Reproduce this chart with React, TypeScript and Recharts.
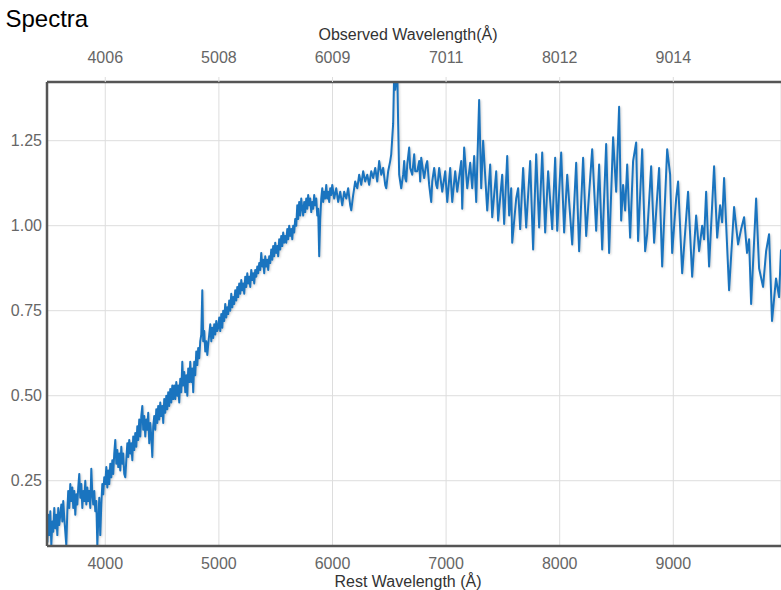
import React from "react"
import { LineChart, Line, XAxis, YAxis, CartesianGrid } from "recharts"

const restTicks = [4000, 5000, 6000, 7000, 8000, 9000]
const observedTicks = [4006, 5008, 6009, 7011, 8012, 9014]
const fluxTicks = [0.25, 0.5, 0.75, 1.0, 1.25]

// [rest wavelength (Å), flux], blue to red
const blueEnd: [number, number][] = [
  [3472, 0.10], [3481, 0.14], [3490, 0.07], [3498, 0.15], [3507, 0.09], [3516, 0.16], [3525, 0.06],
  [3534, 0.13], [3542, 0.10], [3551, 0.17], [3560, 0.11], [3569, 0.15], [3578, 0.09], [3586, 0.17],
  [3595, 0.12], [3613, 0.18], [3622, 0.13], [3630, 0.19], [3639, 0.14], [3648, 0.10], [3657, 0.06],
  [3666, 0.16], [3674, 0.22], [3683, 0.17], [3692, 0.24], [3701, 0.19], [3710, 0.23], [3718, 0.17],
  [3727, 0.22], [3736, 0.15], [3745, 0.21], [3754, 0.18], [3762, 0.23], [3771, 0.27], [3780, 0.20],
  [3789, 0.24], [3798, 0.17], [3806, 0.22], [3815, 0.19], [3824, 0.25], [3833, 0.18], [3842, 0.23],
  [3850, 0.19], [3859, 0.22], [3868, 0.17], [3877, 0.285], [3886, 0.21], [3894, 0.18], [3903, 0.22],
  [3912, 0.16], [3921, 0.19], [3930, 0.06], [3938, 0.13], [3947, 0.20], [3956, 0.09], [3965, 0.18],
  [3974, 0.24], [3982, 0.21], [3991, 0.26],
]

const hBetaRegion: [number, number][] = [
  [4000, 0.24], [4009, 0.29], [4018, 0.23], [4026, 0.28], [4035, 0.24], [4044, 0.30], [4053, 0.26],
  [4062, 0.31], [4070, 0.27], [4079, 0.33], [4088, 0.37], [4097, 0.30], [4106, 0.34], [4114, 0.29],
  [4123, 0.33], [4132, 0.28], [4141, 0.35], [4150, 0.30], [4158, 0.33], [4167, 0.27], [4176, 0.26],
  [4185, 0.31], [4194, 0.36], [4202, 0.32], [4211, 0.37], [4220, 0.33], [4229, 0.36], [4238, 0.31],
  [4246, 0.38], [4255, 0.34], [4264, 0.39], [4273, 0.35], [4282, 0.41], [4290, 0.37], [4299, 0.43],
  [4308, 0.38], [4317, 0.44], [4326, 0.47], [4334, 0.40], [4343, 0.44], [4352, 0.38], [4361, 0.43],
  [4370, 0.40], [4378, 0.45], [4387, 0.36], [4396, 0.42], [4405, 0.38], [4414, 0.32], [4422, 0.41],
  [4431, 0.44], [4440, 0.40], [4449, 0.46], [4458, 0.42], [4466, 0.47], [4475, 0.43], [4484, 0.48],
  [4493, 0.44], [4502, 0.47], [4510, 0.42], [4519, 0.49], [4528, 0.45], [4537, 0.50], [4546, 0.46],
  [4554, 0.51], [4563, 0.47], [4572, 0.52], [4581, 0.48], [4590, 0.53], [4598, 0.49], [4607, 0.53],
  [4616, 0.49], [4625, 0.54], [4634, 0.50], [4642, 0.53], [4651, 0.48], [4660, 0.55], [4669, 0.51],
  [4678, 0.60], [4686, 0.53], [4695, 0.57], [4704, 0.51], [4713, 0.56], [4722, 0.50], [4730, 0.58],
  [4739, 0.54], [4748, 0.60], [4757, 0.54], [4766, 0.58], [4774, 0.51], [4783, 0.60], [4792, 0.56],
  [4801, 0.63], [4810, 0.59], [4818, 0.64], [4827, 0.61], [4836, 0.66], [4845, 0.68], [4854, 0.81],
  [4862, 0.66], [4871, 0.69], [4880, 0.63], [4889, 0.66], [4898, 0.62], [4906, 0.65], [4915, 0.68],
  [4924, 0.71], [4933, 0.66], [4942, 0.70], [4950, 0.67], [4959, 0.71], [4968, 0.68], [4977, 0.72],
  [4986, 0.69], [4994, 0.70],
]

const naDRegion: [number, number][] = [
  [5003, 0.73], [5012, 0.69], [5021, 0.74], [5030, 0.70], [5038, 0.75], [5047, 0.72], [5056, 0.77],
  [5065, 0.73], [5074, 0.76], [5082, 0.74], [5091, 0.78], [5100, 0.75], [5109, 0.80], [5118, 0.76],
  [5126, 0.79], [5135, 0.77], [5144, 0.81], [5153, 0.78], [5162, 0.82], [5170, 0.79], [5179, 0.83],
  [5188, 0.80], [5197, 0.84], [5206, 0.81], [5214, 0.83], [5223, 0.80], [5232, 0.85], [5241, 0.82],
  [5250, 0.86], [5258, 0.83], [5267, 0.85], [5276, 0.82], [5285, 0.87], [5294, 0.84], [5302, 0.86],
  [5311, 0.83], [5320, 0.87], [5329, 0.85], [5338, 0.88], [5346, 0.86], [5355, 0.89], [5364, 0.87],
  [5373, 0.92], [5382, 0.88], [5390, 0.90], [5399, 0.86], [5408, 0.91], [5417, 0.88], [5426, 0.90],
  [5434, 0.87], [5443, 0.91], [5452, 0.89], [5461, 0.93], [5470, 0.90], [5478, 0.94], [5487, 0.91],
  [5496, 0.95], [5505, 0.92], [5514, 0.94], [5522, 0.91], [5531, 0.96], [5540, 0.93], [5549, 0.97],
  [5558, 0.94], [5566, 0.98], [5575, 0.95], [5584, 0.97], [5593, 0.95], [5602, 0.99], [5610, 0.96],
  [5619, 1.00], [5628, 0.97], [5637, 0.99], [5646, 0.96], [5654, 1.00], [5663, 0.98], [5672, 1.02],
  [5681, 1.00], [5690, 1.06], [5698, 1.02], [5707, 1.07], [5716, 1.03], [5725, 1.08], [5734, 1.05],
  [5742, 1.03], [5751, 1.07], [5760, 1.04], [5769, 1.08], [5778, 1.05], [5786, 1.09], [5795, 1.06],
  [5804, 1.08], [5813, 1.04], [5822, 1.07], [5830, 1.05], [5839, 1.09], [5848, 1.06], [5857, 1.08],
  [5866, 1.03], [5874, 1.05], [5883, 0.91], [5892, 1.02], [5901, 1.08], [5910, 1.11], [5918, 1.07],
  [5927, 1.10], [5936, 1.08], [5945, 1.12], [5954, 1.08], [5962, 1.10], [5971, 1.07], [5980, 1.11],
  [5989, 1.09], [5998, 1.12],
]

const hAlphaRegion: [number, number][] = [
  [6015, 1.08], [6033, 1.11], [6050, 1.07], [6068, 1.10], [6086, 1.06], [6103, 1.10], [6121, 1.08],
  [6138, 1.11], [6156, 1.06], [6165, 1.045], [6182, 1.09], [6200, 1.13], [6218, 1.11], [6235, 1.15],
  [6253, 1.12], [6270, 1.16], [6288, 1.13], [6306, 1.15], [6323, 1.12], [6341, 1.16], [6358, 1.14],
  [6376, 1.17], [6394, 1.13], [6411, 1.19], [6429, 1.15], [6446, 1.17], [6464, 1.12], [6473, 1.11],
  [6490, 1.16], [6508, 1.19], [6517, 1.21], [6534, 1.30], [6543, 1.45], [6552, 1.40], [6561, 1.43],
  [6570, 1.46], [6578, 1.30], [6587, 1.15], [6596, 1.13], [6605, 1.11], [6622, 1.15], [6631, 1.19],
  [6640, 1.14], [6649, 1.13], [6658, 1.18], [6675, 1.23], [6684, 1.17], [6702, 1.15], [6719, 1.21],
  [6728, 1.16], [6746, 1.16], [6763, 1.19], [6772, 1.13], [6781, 1.20], [6798, 1.16], [6807, 1.14],
  [6825, 1.18], [6834, 1.19], [6851, 1.12], [6869, 1.07], [6878, 1.13], [6895, 1.17], [6913, 1.12],
  [6922, 1.11],
]

const redBands: [number, number][] = [
  [6939, 1.17], [6966, 1.10], [6992, 1.16], [7010, 1.07], [7036, 1.17], [7054, 1.07], [7080, 1.16],
  [7098, 1.10], [7133, 1.19], [7142, 1.05], [7159, 1.23], [7186, 1.11], [7212, 1.185], [7230, 1.11],
  [7247, 1.205], [7265, 1.07], [7291, 1.37], [7309, 1.11], [7326, 1.25], [7362, 1.045], [7388, 1.18],
  [7406, 1.025], [7441, 1.16], [7458, 1.015], [7494, 1.15], [7511, 1.005], [7538, 1.205], [7555, 1.03],
  [7573, 1.11], [7582, 0.95], [7617, 1.08], [7634, 1.11], [7652, 0.99], [7678, 1.17], [7705, 0.995],
  [7740, 1.19], [7766, 0.93], [7793, 1.21], [7819, 0.995], [7846, 1.215], [7872, 0.98], [7898, 1.16],
  [7934, 0.99], [7960, 1.20], [7978, 0.985], [8013, 1.215], [8039, 0.98], [8066, 1.15], [8110, 0.945],
  [8145, 1.185], [8171, 0.925], [8206, 1.20], [8233, 0.97], [8286, 1.225], [8321, 0.985], [8347, 1.18],
  [8374, 0.93], [8409, 1.24], [8435, 0.92],
]

const farRed: [number, number][] = [
  [8470, 1.26], [8497, 1.10], [8523, 1.35], [8541, 1.015], [8558, 1.12], [8576, 1.045], [8594, 1.18],
  [8620, 0.965], [8646, 1.19], [8673, 1.245], [8690, 0.955], [8726, 1.225], [8752, 0.925], [8770, 0.975],
  [8805, 1.175], [8831, 0.95], [8875, 1.17], [8902, 0.88], [8946, 1.225], [8972, 1.15], [8990, 0.92],
  [9025, 1.08], [9042, 1.13], [9078, 0.86], [9130, 1.10], [9166, 0.85], [9201, 1.03], [9227, 0.925],
  [9254, 1.00], [9271, 0.96], [9289, 1.10], [9315, 0.88], [9359, 1.175], [9386, 0.965], [9412, 1.06],
  [9430, 1.01], [9447, 1.14], [9491, 0.81], [9535, 1.055], [9570, 0.945], [9597, 0.99], [9623, 1.025],
  [9649, 0.92], [9667, 0.96], [9685, 0.77], [9729, 1.08], [9755, 0.875], [9790, 0.82], [9817, 0.925],
  [9843, 0.975], [9869, 0.72], [9904, 0.845], [9931, 0.79], [9948, 0.93],
]

const spectrum = [...blueEnd, ...hBetaRegion, ...naDRegion, ...hAlphaRegion, ...redBands, ...farRed].map(
  ([w, f]) => ({ w, f })
)

const FONT = '"Liberation Sans", Arial, sans-serif'
const tickStyle = { fontSize: 16, fill: "#666", fontFamily: FONT }
const frame = { stroke: "#555", strokeWidth: 2.5 }
const X_DOMAIN: [number, number] = [3487, 9948]

export default function App() {
  return (
    <div
      style={{
        position: "absolute",
        left: 0,
        top: 0,
        width: 781,
        height: 590,
        overflow: "hidden",
        background: "#fff",
      }}
    >
      <style>{`.spectrum-line .recharts-line-curve { filter: drop-shadow(1px 1px 1px rgba(0,0,0,0.18)); }`}</style>
      <LineChart width={781} height={590} data={spectrum} margin={{ top: 0, right: 0, bottom: 0, left: 0 }}>
        <CartesianGrid stroke="#dddddd" />
        <XAxis
          dataKey="w"
          type="number"
          domain={X_DOMAIN}
          allowDataOverflow
          ticks={restTicks}
          interval={0}
          height={44}
          tickLine={false}
          tickSize={0}
          tickMargin={12}
          axisLine={frame}
          tick={tickStyle}
        />
        <XAxis
          xAxisId="top"
          orientation="top"
          dataKey="w"
          type="number"
          domain={X_DOMAIN}
          allowDataOverflow
          ticks={restTicks}
          interval={0}
          tickFormatter={(_v: number, i: number) => String(observedTicks[i])}
          height={82}
          tickSize={5}
          tickMargin={14}
          tickLine={{ stroke: "#dddddd" }}
          axisLine={frame}
          tick={tickStyle}
        />
        <YAxis
          type="number"
          domain={[0.058, 1.4226]}
          allowDataOverflow
          ticks={fluxTicks}
          interval={0}
          width={47}
          tickFormatter={(v: number) => v.toFixed(2)}
          tickLine={false}
          tickSize={0}
          tickMargin={5}
          axisLine={frame}
          tick={tickStyle}
        />
        <Line
          className="spectrum-line"
          dataKey="f"
          type="linear"
          stroke="#1a74bf"
          strokeWidth={2}
          strokeLinejoin="round"
          dot={false}
          activeDot={false}
          isAnimationActive={false}
        />
      </LineChart>
      <svg
        width={781}
        height={590}
        style={{ position: "absolute", left: 0, top: 0, pointerEvents: "none" }}
      >
        <text x={5.5} y={26.7} fontSize={24} fontFamily={FONT} fill="#000">
          Spectra
        </text>
        <text x={408} y={40} fontSize={16} fontFamily={FONT} fill="#333" textAnchor="middle">
          Observed Wavelength(Å)
        </text>
        <text x={408} y={587} fontSize={16} fontFamily={FONT} fill="#333" textAnchor="middle">
          Rest Wavelength (Å)
        </text>
      </svg>
    </div>
  )
}
